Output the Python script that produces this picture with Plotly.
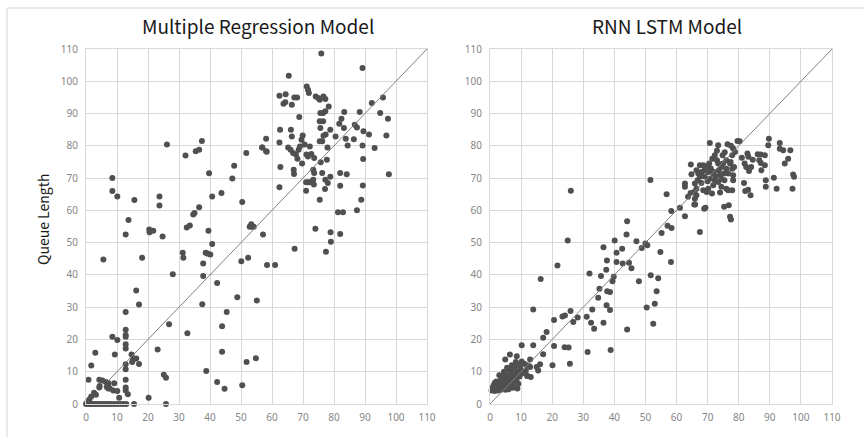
import plotly.graph_objects as go

# ---------------- data ----------------
mr_x = [8.5, 8.5, 10.1, 15.6, 13.7, 23.7, 23.7, 26.1, 32.1, 35.4, 36.5, 37.4, 36.5, 35, 34.6, 39.7, 40.7, 43.7, 47.2, 47.8,
        50.4, 51.7, 56.8, 58.1, 58.1, 62.4, 62.6, 62.4, 62.7, 62.4, 64.4, 63.7, 64.3, 65.4, 66.1, 66.4, 67.2, 68.1, 66.4, 68.8,
        65.2, 66, 66.8, 67.7, 68.6, 69, 68.2, 67, 67.1, 69.5, 69.9, 69.7, 70.5, 71.1, 71.6, 72.2, 72.7, 73.6, 71.2, 71.6,
        71.9, 71, 71.6, 72.3, 71, 73.3, 73.6, 73.3, 73.5, 74.1, 74.9, 75.4, 75.9, 75.6, 76.5, 77.2, 75.4, 76.5, 75.6, 75.4,
        76.2, 76.6, 77.3, 76.6, 77.2, 75.7, 77.7, 76.2, 77.2, 78, 77.1, 75.4, 78.3, 78.8, 78.8, 77.9, 80.5, 81.7, 82.4, 83.3,
        83.2, 83.8, 84.4, 82, 84.1, 82, 86.4, 86.7, 87.4, 88.3, 89.2, 89.2, 89.5, 89.4, 89.3, 88.8, 91.3, 92.2, 93.1, 94.9,
        95.8, 96.9, 97.4, 97.7, 81.3, 82.9, 87.4, 56.9, 58.3,
        74, 78.9, 79, 77.4, 82, 67.3, 57.1, 58.4, 61, 53.3, 53.6, 52.8, 54.1, 50.1, 52.3, 55.1, 51.8, 54.8, 50.4, 48.8,
        45.4, 43.9, 43.9, 42.3, 44.7, 42.3, 32.7, 38.8, 37.5, 37.8, 37.8, 38.6, 39.2, 40.1, 40.7, 39.5, 32.5, 33.5, 31.2, 31.4,
        28, 26.8, 23.1, 25.1, 25.8, 25.8, 20.2, 24.7, 20.4, 20.5, 21.7, 16.2, 17.1, 18.1, 12.8, 12.8, 12.8, 12.8, 12.8, 12.8,
        12.8, 12.8, 12.8, 12.8, 12.8, 12.8, 13.5, 14.7, 15.2, 16.2, 17.1, 14.9, 10.1, 8.5, 9.3, 5.6, 1.7, 3, 0.8, 4.3,
        5.3, 6.4, 7.2, 9.1, 4.3, 6.7, 7.2, 7.7, 8.8, 10.1, 2.6, 3.2, 10.7, 1.1, 0.5, 15.5,
        0, 0.5, 1, 1.6, 2.2, 3, 3.8, 4.6, 5.5, 6.3, 7.2, 8, 9, 10, 11, 12, 13, 4.4, 7.1, 1.7]
mr_y = [70, 66, 64.3, 63.2, 57, 64.3, 61.5, 80.4, 77, 78.3, 78.8, 81.5, 61, 59.2, 58.7, 71.5, 64.3, 65.4, 69.9, 73.8,
        62.6, 77.8, 79.5, 82.2, 78.3, 95.5, 85, 81, 73.4, 67.2, 96, 93, 93.5, 101.7, 85, 82.9, 95, 95, 92.7, 88.9,
        79.5, 78.8, 77.8, 77.3, 78.8, 79.8, 76, 72.6, 71.3, 81.9, 83.2, 74.5, 80.4, 77.3, 76.7, 79.8, 77.5, 76.2, 98.4, 97.4,
        96.4, 68.7, 68.7, 68.7, 66.1, 72.6, 71.6, 69.5, 68, 95.3, 94.8, 94.3, 108.6, 90.2, 90.2, 90.7, 87.6, 87.6, 85.5, 81.4,
        81.4, 83.1, 83.5, 95.3, 94.5, 74.9, 75.7, 71.6, 69.5, 68.5, 66.6, 63.3, 92.2, 85, 70.4, 79.5, 82.9, 86.8, 88.4, 90.5,
        85.5, 82.2, 80.1, 71.6, 71.2, 67.6, 82, 86.5, 85.7, 90.5, 104.1, 80.1, 84.5, 75.9, 67.7, 63.3, 83.5, 93.3, 79.3, 90.2,
        95, 83.2, 88.4, 71.2, 59.4, 59.4, 60, 79.5, 78.2,
        54.3, 53.2, 50.3, 47.2, 52.7, 48.1, 52.5, 43.1, 43.1, 55.7, 54.9, 54.9, 54.9, 44.2, 45.3, 32.1, 13, 14.2, 5.8, 33.1,
        28.5, 24.1, 16.2, 6.8, 4.7, 37.5, 21.9, 10.2, 30.9, 43.5, 39.7, 46.9, 46.6, 46.3, 49.6, 53.7, 54.7, 55.3, 46.9, 45.3,
        40.2, 24.7, 16.9, 9.1, 8.1, 0, 1.9, 51.9, 54.1, 53.2, 53.7, 35.2, 30.8, 45.3, 52.5, 28.5, 23, 21.4, 20.8, 18.5,
        17.2, 12.3, 10.8, 7.5, 5.1, 4.2, 3, 15.3, 13.8, 14.1, 12.4, 13, 19.8, 20.8, 15.3, 44.8, 11.9, 15.9, 7.5, 7.5,
        7.3, 6.8, 6.5, 6.4, 5.1, 5.3, 4.8, 4.8, 4.2, 4, 3.5, 2.9, 1.9, 1.4, 0.8, 0,
        0, 0, 0, 0, 0, 0, 0, 0, 0, 0, 0, 0, 0, 0, 0, 0, 0, 5.6, 5.9, 2.3]

lstm_x = [70.7, 73.4, 76.4, 77.5, 78.2, 79.6, 89.7, 89.5, 93.2, 93.2, 94.3, 96.6, 95.9, 94.8, 97.5, 97.8, 97.3, 92.2, 88.7, 88.7,
          91.3, 82.8, 83.1, 84.5, 86.1, 87.1, 88.4, 86.6, 87.1, 88.4, 81.9, 82.4, 84, 83.3, 87.3, 81.7, 82.1, 83, 83.8, 81,
          78.8, 77.9, 77.4, 74.8, 72.3, 64.6, 64.8, 67.5, 68.6, 66.4, 67, 68, 69, 67.5, 66.8, 65.9, 70.2, 70.7, 71.8, 73.4,
          73.6, 74.4, 75.3, 76, 76.6, 77.2, 77.9, 78.5, 78.2, 78.2, 74.4, 75.4, 73.4, 72.3, 71.8, 74.4, 76, 76.6, 77.9, 70.2,
          69.7, 71.4, 68.6, 66.4, 65.7, 66.4, 65.9, 63.7, 62.7, 62.7, 56.8, 61.1, 58.3, 62.7, 68.9, 69.3, 75.3, 76.8, 77.2, 77.5,
          55.2, 67.5, 65.7, 69.5, 70.5, 71, 72, 72.5, 73, 74, 75, 76, 71.5, 73, 75.5, 70, 68, 69, 74, 66, 64.5, 80.3,
          26, 25, 44.1, 43.9, 40.1, 36.5, 40.7, 42.5, 47.1, 48.8, 50, 50.6, 57.1, 58.4, 54.8, 58.2, 37.6, 40.7, 42.7, 44.7,
          45.5, 37.4, 32, 35.7, 39.8, 39.4, 47.9, 51.7, 54.1, 35.2, 37.7, 38.6, 34.8, 53.6, 53, 50.4, 37.5, 38.6, 32.9, 25.9,
          31.1, 28.2, 26.8, 32.5, 33.5, 36.5, 44.1, 52.5, 31.4, 38.8, 25.7, 51.6,
          13.9, 20.6, 23.3, 24.1, 18.2, 17.1, 10.2, 13.9, 20.6, 24, 25.3, 16.3, 21.7, 17.1, 16.1, 15, 15.5, 12.9, 12.9, 12,
          13.1, 20.1,
          0.5, 0.8, 1, 1.2, 1.5, 1.5, 1.8, 2, 2, 2.2, 2.5, 2.5, 2.8, 3, 3, 3.2, 3.5, 3.5, 3.8, 4,
          4, 4.2, 4.5, 4.5, 4.8, 4.9, 5, 5, 5.3, 5.5, 5.5, 5.8, 6, 6, 6.3, 6.4, 6.5, 6.8, 7, 7,
          7.3, 7.5, 7.5, 7.8, 8, 8, 8.3, 8.6, 8.5, 8.8, 9, 9.1, 9.3, 9.5, 9.8, 10.2, 10.5, 11, 11.5, 11.8,
          12, 12.5]
lstm_y = [80.9, 80.2, 80.5, 80, 79.2, 81.5, 82.2, 80.2, 80.9, 79.1, 78.6, 78.6, 76, 74.5, 71.1, 70.4, 66.7, 66.7, 69.3, 67.3,
          70.1, 77.6, 76.6, 75.7, 77.4, 77.3, 77.1, 75.5, 74.7, 74, 74.5, 73.4, 73.4, 72.2, 72.4, 68.5, 66, 66.4, 64.7, 76.3,
          78.1, 77.1, 75, 77.1, 77.1, 74.2, 71.2, 74, 74, 72.4, 71.4, 71.9, 72.4, 70.4, 69.3, 68.3, 71.9, 69.8, 71.4, 74.5,
          72.4, 73.4, 71.4, 72.9, 71.4, 74.5, 72.9, 73.4, 70.9, 69.3, 69.8, 69.3, 68.8, 69.3, 67.8, 67.3, 66.7, 66.2, 66.2, 66.7,
          65.7, 65.2, 66.2, 66.7, 65.7, 64.7, 63.6, 64.2, 68.3, 67.3, 65, 60.8, 59.8, 58.2, 60.5, 60.8, 61.1, 61.6, 58, 57.2,
          53, 53.3, 61.8, 73.5, 74.5, 73, 72, 70.5, 75.5, 71, 74.5, 75.5, 76, 78.5, 78, 69, 68.5, 70.5, 65.5, 61.8, 65.4, 81.4,
          66.1, 50.7, 56.6, 52.5, 50.7, 48.6, 46.9, 48.1, 50.4, 48.3, 49.7, 49.2, 55.2, 54.5, 47.1, 44, 44.5, 44, 43.5, 43.8,
          42.1, 41.6, 40.4, 39.7, 39.4, 38, 38, 39.9, 39, 35.7, 34.9, 34.7, 32.9, 34.9, 31.1, 29.9, 30.6, 29.1, 29.3, 28.8,
          27, 26.8, 25.4, 25.2, 23.3, 25.2, 23.1, 24.9, 16.1, 16.7, 12.5, 69.4,
          29.3, 26, 27.1, 27.4, 22.3, 20.5, 18.2, 18.2, 18, 17.6, 17.5, 38.7, 42.9, 15.4, 12.3, 11.5, 10.4, 13.8, 11.5, 8.7,
          8.4, 12,
          4.2, 5, 4.5, 5.8, 4, 6.5, 5.2, 4.5, 7, 5.8, 4.2, 6.2, 5, 8.9, 5.5, 6.8, 4.4, 7.5, 5.8, 4.8,
          6.5, 8.5, 5.2, 10, 6, 13.8, 7.5, 4.4, 9, 5.5, 11.2, 6.8, 8.2, 4.6, 10.5, 15.3, 5.8, 7.2, 9.5, 12,
          5, 8, 10.8, 6.5, 11.5, 9, 13, 14.8, 7.5, 4.8, 10, 6.3, 12.2, 8.5, 11, 13.2, 9.5, 12.5, 10.2, 12,
          8.7, 11.8]

diag_left = [7, 110]
diag_right = [0, 110]
axis_ticks = list(range(0, 111, 10))
titles = ["Multiple Regression Model", "RNN LSTM Model"]
y_label = "Queue Length"

# ---------------- figure ----------------
W, H = 865, 437
px = lambda v: v / W
py = lambda v: 1 - v / H

DOT = "#505050"
GRID = "#d9d9d9"
TICK = "#868686"

fig = go.Figure()
fig.add_trace(go.Scatter(x=mr_x, y=mr_y, mode="markers", cliponaxis=False,
                         marker=dict(color=DOT, size=6, line=dict(width=0)),
                         xaxis="x", yaxis="y", showlegend=False, hoverinfo="skip"))
fig.add_trace(go.Scatter(x=diag_left, y=diag_left, mode="lines",
                         line=dict(color="#808080", width=1),
                         xaxis="x", yaxis="y", showlegend=False, hoverinfo="skip"))
fig.add_trace(go.Scatter(x=lstm_x, y=lstm_y, mode="markers", cliponaxis=False,
                         marker=dict(color=DOT, size=6, line=dict(width=0)),
                         xaxis="x2", yaxis="y2", showlegend=False, hoverinfo="skip"))
fig.add_trace(go.Scatter(x=diag_right, y=diag_right, mode="lines",
                         line=dict(color="#808080", width=1),
                         xaxis="x2", yaxis="y2", showlegend=False, hoverinfo="skip"))

ax_common = dict(range=[0, 110], tickvals=axis_ticks, showgrid=True, gridcolor=GRID, gridwidth=1,
                 zeroline=False, showline=True, linecolor=GRID, linewidth=1, mirror=True, automargin=False,
                 ticks="", tickfont=dict(family="Noto Sans", size=10, color=TICK), fixedrange=True)

ydom = [py(404), py(49)]
fig.update_layout(
    width=W, height=H, margin=dict(l=0, r=0, t=0, b=0, pad=0, autoexpand=False),
    paper_bgcolor="white", plot_bgcolor="white",
    xaxis=dict(domain=[px(86), px(427)], anchor="y", ticklabelstandoff=4, **ax_common),
    yaxis=dict(domain=ydom, anchor="x", ticklabelstandoff=5, **ax_common),
    xaxis2=dict(domain=[px(490), px(832)], anchor="y2", ticklabelstandoff=4, **ax_common),
    yaxis2=dict(domain=ydom, anchor="x2", ticklabelstandoff=5, **ax_common),
    shapes=[
        dict(type="line", xref="paper", yref="paper", x0=px(7), x1=px(7), y0=0, y1=py(8),
             line=dict(color="#d4d4d4", width=1), layer="below"),
        dict(type="line", xref="paper", yref="paper", x0=px(7), x1=1, y0=py(8), y1=py(8),
             line=dict(color="#d4d4d4", width=1), layer="below"),
    ],
    annotations=[
        dict(text=titles[0], x=px(258), y=py(25), xref="paper", yref="paper", showarrow=False,
             xanchor="center", yanchor="middle", font=dict(family="Noto Sans CJK KR", size=19, color="#1a1a1a")),
        dict(text=titles[1], x=px(667), y=py(25), xref="paper", yref="paper", showarrow=False,
             xanchor="center", yanchor="middle", font=dict(family="Noto Sans CJK KR", size=19, color="#1a1a1a")),
        dict(text=y_label, x=px(43), y=py(220), xref="paper", yref="paper", showarrow=False, textangle=-90,
             xanchor="center", yanchor="middle", font=dict(family="Noto Sans CJK KR", size=14, color="#1a1a1a")),
    ],
)

fig.write_html("out.html")
